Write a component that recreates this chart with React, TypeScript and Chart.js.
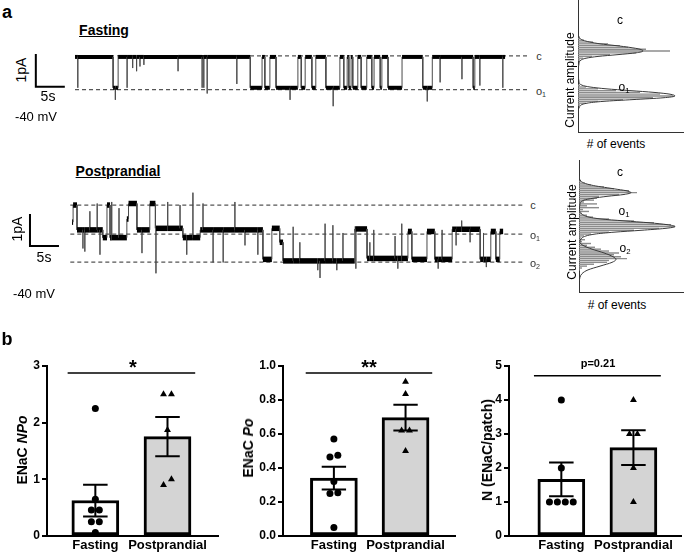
import React, { useEffect, useRef } from 'react';
import { Chart, registerables } from 'chart.js';
Chart.register(...registerables);

const FONT = '"Liberation Sans", Arial, Helvetica, sans-serif';

// ---------- panel b data ----------
const CATS = ['Fasting', 'Postprandial'];
const NPO_FAST = [2.25, 0.65, 0.46, 0.46, 0.25, 0.25, 0.06];
const NPO_POST = [2.5, 2.5, 1.87, 1.0, 0.9];
const PO_FAST = [0.57, 0.475, 0.465, 0.32, 0.255, 0.25, 0.05];
const PO_POST = [0.908, 0.835, 0.62, 0.62, 0.5];
const N_FAST = [4, 2, 1, 1, 1, 1];
const N_POST = [4, 3, 3, 2, 1];
const NPO_TICKS = [0, 1, 2, 3];
const PO_TICKS = [0, 0.2, 0.4, 0.6, 0.8, 1.0];
const N_TICKS = [0, 1, 2, 3, 4, 5];

// ---------- panel a data: single-channel traces (time s, current pA) ----------
const FAST_DWELL_T = [0, 6.8, 7.7, 31.3, 33.4, 33.9, 34.8, 35.9, 39.8, 40.4, 41.1, 42.3, 43.0, 44.8, 47.3, 48.0, 48.6, 48.9, 49.3, 49.6, 50.5, 51.1, 52.1, 53.0, 53.4, 54.5, 54.8, 55.9, 58.4, 62.1, 63.8, 71.1, 71.4];
const FAST_DWELL_I = [0, -0.97, 0, -0.97, 0, -0.97, 0, -0.97, 0, -0.97, 0, -0.97, 0, -0.97, 0, -0.97, 0, -0.97, 0, -0.97, 0, -0.97, 0, -0.97, 0, -0.97, 0, -0.97, 0, -0.97, 0, -0.97, 0];
const FAST_END = 76.8;
const FAST_SPIKE_T = [0.5, 7.2, 9.3, 10.3, 11.0, 11.6, 12.3, 18.4, 22.7, 23.0, 23.6, 28.9, 38.4, 46.1, 62.9, 65.2, 69.1, 72.3, 76.4];
const FAST_SPIKE_I = [-0.97, -1.35, -0.97, -0.35, -0.45, -0.3, -0.25, -0.45, -0.97, -0.97, -1.15, -0.85, -1.35, -1.55, -1.4, -0.8, -0.7, -0.9, -0.97];
const FAST_LEVELS = [0.03, -1.03];

const POST_DWELL_T = [0, 0.2, 0.9, 5.5, 6.25, 6.8, 9.8, 10.1, 11.6, 13.9, 14.9, 19.8, 22.9, 34.1, 35.7, 37.1, 37.7, 50.5, 52.7, 60.0, 60.7, 63.4, 64.8, 67.9, 72.9, 74.8, 75.7, 76.4];
const POST_DWELL_I = [-0.55, 0, -0.8, -1.05, 0, -1.05, -0.45, 0.05, -0.8, 0.05, -0.75, -1.05, -0.8, -1.75, -0.75, -1.2, -1.8, -0.77, -1.72, -0.85, -1.75, -0.85, -1.75, -0.78, -1.75, -0.85, -1.75, -0.85];
const POST_END = 77.0;
const POST_SPIKE_T = [1.96, 2.3, 3.2, 4.5, 5.0, 7.1, 8.4, 12.5, 15.0, 17.1, 19.3, 20.5, 21.6, 23.4, 25.2, 27.0, 29.1, 30.9, 33.2, 39.5, 40.7, 43.9, 44.3, 45.2, 46.6, 47.3, 48.4, 50.7, 53.2, 53.9, 57.7, 58.2, 58.9, 65.4, 66.1, 68.6, 69.6, 71.1, 73.5, 74.0];
const POST_SPIKE_I = [-1.4, -1.5, -0.2, 0.05, -1.6, 0.1, -0.1, -1.55, -2.2, 0.1, 0.0, -1.6, 0.4, 0.05, -1.85, -1.85, 0.1, -1.3, -1.6, -0.7, -1.2, -2.1, -2.35, -0.6, -0.65, -2.1, -0.9, -2.05, -1.2, -0.8, -1.0, -2.05, -0.6, -2.05, -0.8, -1.3, -0.5, -1.2, -0.9, -2.0];
const POST_LEVELS = [0, -0.94, -1.84];

// ---------- panel a data: amplitude histograms ----------
const HIST1_AMP = [0.28, 0.24, 0.20, 0.16, 0.12, 0.08, 0.04, 0.00, -0.04, -0.08, -0.12, -0.16, -0.20, -0.24, -0.28, -0.32, -0.36, -0.40, -0.44, -0.48, -0.52, -0.56, -0.60, -0.64, -0.68, -0.72, -0.76, -0.80, -0.84, -0.88, -0.92, -0.96, -1.00, -1.04, -1.08, -1.12, -1.16, -1.20];
const HIST1_COUNT = [2, 6, 15, 30, 42, 50, 68, 92, 58, 32, 14, 5, 2, 0, 0, 1, 0, 0, 1, 0, 0, 0, 1, 0, 0, 0, 2, 8, 20, 38, 62, 82, 95, 75, 45, 20, 8, 2];
const HIST1_FIT_AMP = [0.40, 0.32, 0.24, 0.16, 0.12, 0.08, 0.04, 0.00, -0.04, -0.08, -0.12, -0.16, -0.20, -0.28, -0.40, -0.56, -0.68, -0.76, -0.80, -0.84, -0.88, -0.92, -0.96, -1.00, -1.04, -1.08, -1.12, -1.16, -1.24, -1.40];
const HIST1_FIT = [0, 1, 5, 22, 38, 52, 62, 65, 58, 40, 20, 8, 3, 1, 0.5, 0.5, 1, 4, 12, 28, 52, 76, 92, 97, 85, 55, 25, 9, 1.5, 0];

const HIST2_AMP = [0.30, 0.25, 0.20, 0.15, 0.10, 0.05, 0.00, -0.05, -0.10, -0.15, -0.20, -0.25, -0.30, -0.35, -0.40, -0.45, -0.50, -0.55, -0.60, -0.65, -0.70, -0.75, -0.80, -0.85, -0.90, -0.95, -1.00, -1.05, -1.10, -1.15, -1.20, -1.25, -1.30, -1.35, -1.40, -1.45, -1.50, -1.55, -1.60, -1.65, -1.70, -1.75, -1.80, -1.85, -1.90, -1.95, -2.00, -2.05];
const HIST2_COUNT = [2, 6, 12, 25, 35, 50, 58, 40, 20, 18, 15, 5, 18, 8, 20, 4, 10, 3, 8, 14, 30, 55, 75, 92, 96, 80, 55, 30, 12, 5, 2, 6, 3, 12, 8, 16, 22, 30, 40, 35, 42, 48, 30, 28, 15, 8, 3, 1];
const HIST2_FIT_AMP = [0.45, 0.30, 0.20, 0.10, 0.05, 0.00, -0.05, -0.10, -0.15, -0.20, -0.30, -0.45, -0.55, -0.65, -0.70, -0.75, -0.80, -0.85, -0.90, -0.95, -1.00, -1.05, -1.10, -1.20, -1.32, -1.40, -1.50, -1.60, -1.70, -1.77, -1.85, -1.95, -2.05, -2.15, -2.35];
const HIST2_FIT = [0, 2, 12, 35, 47, 52, 45, 28, 14, 5, 1, 0.5, 2, 10, 22, 45, 70, 88, 96, 86, 62, 35, 16, 3, 1, 4, 13, 25, 34, 37, 33, 21, 9, 3, 0];

// ---------- helpers ----------
const mean = (v: number[]) => v.reduce((a, b) => a + b, 0) / v.length;
const sem = (v: number[], m: number) =>
  Math.sqrt(v.reduce((a, b) => a + (b - m) * (b - m), 0) / (v.length - 1)) / Math.sqrt(v.length);

function swarm(vals: number[], tol: number, spacing: number): number[] {
  const idx = vals.map((_, i) => i).sort((a, b) => vals[a] - vals[b]);
  const off = new Array(vals.length).fill(0);
  let group: number[] = [];
  const flush = () => {
    group.forEach((gi, k) => { off[gi] = (k - (group.length - 1) / 2) * spacing; });
    group = [];
  };
  idx.forEach((i) => {
    if (group.length && vals[i] - vals[group[group.length - 1]] > tol) flush();
    group.push(i);
  });
  flush();
  return off;
}

function buildTrace(dT: number[], dI: number[], end: number, sT: number[], sI: number[]) {
  const pts: { x: number; y: number }[] = [];
  for (let k = 0; k < dT.length; k++) {
    const t0 = dT[k];
    const t1 = k + 1 < dT.length ? dT[k + 1] : end;
    const L = dI[k];
    pts.push({ x: t0, y: L });
    for (let j = 0; j < sT.length; j++) {
      if (sT[j] > t0 && sT[j] < t1) {
        pts.push({ x: sT[j], y: L }, { x: sT[j], y: sI[j] }, { x: sT[j], y: L });
      }
    }
    pts.push({ x: t1, y: L });
  }
  return pts;
}

const baseOpts = {
  animation: false,
  responsive: false,
  devicePixelRatio: 1,
  events: [],
  plugins: { legend: { display: false }, tooltip: { enabled: false }, title: { display: false } },
};

function traceConfig(pts: any[], levels: number[], dash0: number, dash1: number, bar: any[], xMin: number, xMax: number, yMin: number, yMax: number, band: number) {
  const vertical = (c: any) => c.p0.parsed.x === c.p1.parsed.x;
  return {
    type: 'line',
    data: {
      datasets: [
        {
          data: pts, borderColor: '#000', borderWidth: band, pointRadius: 0, order: 0,
          segment: {
            borderWidth: (c: any) => (vertical(c) ? 1 : band),
            borderColor: (c: any) => (vertical(c) ? '#4a4a4a' : '#000'),
          },
        },
        { data: bar, borderColor: '#000', borderWidth: 2, pointRadius: 0, borderJoinStyle: 'miter', borderCapStyle: 'square', order: 1 },
        ...levels.map((y) => ({
          data: [{ x: dash0, y }, { x: dash1, y }],
          borderColor: '#555', borderWidth: 1.2, borderDash: [4, 3], pointRadius: 0, order: 2,
        })),
      ],
    },
    options: {
      ...baseOpts,
      layout: { padding: 0 },
      scales: {
        x: { type: 'linear', display: false, min: xMin, max: xMax },
        y: { type: 'linear', display: false, min: yMin, max: yMax },
      },
    },
  };
}

function histConfig(amp: number[], count: number[], fitAmp: number[], fit: number[], yMin: number, yMax: number, xMax: number) {
  const axis = (w: 'w' | 'h') => ({
    ticks: { display: false },
    grid: { display: false, drawTicks: false },
    border: { display: true, color: '#333', width: 1 },
    afterFit: (s: any) => { if (w === 'w') s.width = 3; else s.height = 3; },
  });
  return {
    type: 'bar',
    data: {
      datasets: [
        {
          type: 'line', indexAxis: 'y', data: fit.map((c, i) => ({ x: c, y: fitAmp[i] })),
          borderColor: '#3a3a3a', borderWidth: 1, pointRadius: 0, cubicInterpolationMode: 'monotone', order: 0,
        },
        {
          type: 'bar', indexAxis: 'y', data: count.map((c, i) => ({ x: c, y: amp[i] })),
          backgroundColor: '#8c8c8c', borderWidth: 0, categoryPercentage: 1, barPercentage: 0.75, order: 1,
        },
      ],
    },
    options: {
      ...baseOpts,
      indexAxis: 'y',
      layout: { padding: { left: 0, top: 0, right: 2, bottom: 0 } },
      scales: {
        x: { type: 'linear', min: 0, max: xMax, ...axis('h') },
        y: { type: 'linear', min: yMin, max: yMax, ...axis('w') },
      },
    },
  };
}

const JIT = 0.11;
const CAP = 0.17;

function barConfig(fast: number[], post: number[], ticks: number[], digits: number, xMin: number, xMax: number, sig: { y: number; x0: number; x1: number }) {
  const yMax = ticks[ticks.length - 1];
  const groups = [fast, post];
  const stats = groups.map((v) => { const m = mean(v); return { m, s: sem(v, m) }; });
  const jit = groups.map((v) => swarm(v, 0.04 * yMax, JIT));
  const datasets: any[] = [];
  datasets.push({
    type: 'line', data: [{ x: sig.x0, y: sig.y }, { x: sig.x1, y: sig.y }],
    borderColor: '#000', borderWidth: 1.5, pointRadius: 0, order: 0,
  });
  stats.forEach((st, g) => {
    const hi = st.m + st.s, lo = st.m - st.s;
    datasets.push({
      type: 'line',
      data: [{ x: g - CAP, y: hi }, { x: g + CAP, y: hi }, { x: g, y: hi }, { x: g, y: lo }, { x: g - CAP, y: lo }, { x: g + CAP, y: lo }],
      borderColor: '#000', borderWidth: 2, pointRadius: 0, borderJoinStyle: 'miter', order: 1,
    });
  });
  groups.forEach((v, g) => {
    datasets.push({
      type: 'scatter', data: v.map((y, i) => ({ x: g + jit[g][i], y })),
      pointStyle: g === 0 ? 'circle' : 'triangle', pointRadius: g === 0 ? 3.5 : 4,
      backgroundColor: '#000', borderColor: '#000', borderWidth: 0, order: 2,
    });
  });
  datasets.push({
    type: 'bar', data: stats.map((st, g) => ({ x: g, y: st.m })),
    backgroundColor: ['#ffffff', '#d4d4d4'], borderColor: '#000', borderWidth: 3,
    borderSkipped: false, barThickness: 47, order: 3,
  });
  return {
    type: 'bar',
    data: { datasets },
    options: {
      ...baseOpts,
      layout: { padding: { top: 10, right: 2, left: 0, bottom: 0 } },
      scales: {
        x: {
          type: 'linear', min: xMin, max: xMax, offset: false,
          afterBuildTicks: (s: any) => { s.ticks = CATS.map((_, i) => ({ value: i })); },
          afterFit: (s: any) => { s.height = 21; },
          ticks: {
            autoSkip: false, maxRotation: 0, padding: 2, color: '#000',
            font: { family: FONT, size: 13, weight: 'bold' },
            callback: (v: any) => CATS[Math.round(Number(v))] ?? '',
          },
          grid: { display: true, drawOnChartArea: false, drawTicks: false },
          border: { display: true, color: '#000', width: 2 },
        },
        y: {
          type: 'linear', min: 0, max: yMax,
          afterBuildTicks: (s: any) => { s.ticks = ticks.map((v) => ({ value: v })); },
          afterFit: (s: any) => { s.width = 40; },
          ticks: {
            padding: 2, color: '#000', font: { family: FONT, size: 12, weight: 'bold' },
            callback: (v: any) => Number(v).toFixed(digits),
          },
          grid: { display: true, drawOnChartArea: false, drawTicks: true, tickLength: 5, color: '#000', lineWidth: 2 },
          border: { display: true, color: '#000', width: 2 },
        },
      },
    },
  };
}

function ChartCanvas({ left, top, width, height, config }: any) {
  const ref = useRef<HTMLCanvasElement>(null);
  useEffect(() => {
    const chart = new Chart(ref.current as HTMLCanvasElement, config);
    return () => chart.destroy();
  }, []);
  return (
    <canvas ref={ref} width={width} height={height}
      style={{ position: 'absolute', left, top, width, height }} />
  );
}

function T({ x, y, size = 12, bold = false, rot = false, color = '#000', underline = false, children }: any) {
  return (
    <div style={{
      position: 'absolute', left: x, top: y, fontSize: size, fontWeight: bold ? 'bold' : 'normal',
      lineHeight: 1, whiteSpace: 'nowrap', color, textDecoration: underline ? 'underline' : 'none',
      transform: `translate(-50%, -50%)${rot ? ' rotate(-90deg)' : ''}`,
    }}>{children}</div>
  );
}

const Sub = ({ children }: any) => (
  <sub style={{ fontSize: '0.65em', lineHeight: 0, verticalAlign: '-0.3em' }}>{children}</sub>
);

export default function App() {
  const fastPts = buildTrace(FAST_DWELL_T, FAST_DWELL_I, FAST_END, FAST_SPIKE_T, FAST_SPIKE_I);
  const postPts = buildTrace(POST_DWELL_T, POST_DWELL_I, POST_END, POST_SPIKE_T, POST_SPIKE_I);
  // scale bars: 1 pA vertical, 5 s horizontal
  const fastBar = [{ x: -7.0, y: 0.06 }, { x: -7.0, y: -0.94 }, { x: -2.0, y: -0.94 }];
  const postBar = [{ x: -7.5, y: -0.32 }, { x: -7.5, y: -1.32 }, { x: -2.5, y: -1.32 }];

  return (
    <div style={{ position: 'absolute', left: 0, top: 0, width: 685, height: 557, background: '#fff', overflow: 'hidden', fontFamily: FONT, color: '#000' }}>
      {/* panel a traces */}
      <ChartCanvas left={30} top={45} width={500} height={66}
        config={traceConfig(fastPts, FAST_LEVELS, 0, 80.9, fastBar, -8.04, 81.25, -1.7, 0.375, 4)} />
      <ChartCanvas left={25} top={188} width={505} height={94}
        config={traceConfig(postPts, POST_LEVELS, -0.3, 80.9, postBar, -8.39, 81.8, -2.48, 0.55, 5.5)} />
      {/* histograms */}
      <ChartCanvas left={575} top={0} width={110} height={135}
        config={histConfig(HIST1_AMP, HIST1_COUNT, HIST1_FIT_AMP, HIST1_FIT, -1.556, 0.89, 105)} />
      <ChartCanvas left={576} top={160} width={109} height={135}
        config={histConfig(HIST2_AMP, HIST2_COUNT, HIST2_FIT_AMP, HIST2_FIT, -2.386, 0.614, 104)} />
      {/* panel b */}
      <ChartCanvas left={7} top={356} width={215} height={201}
        config={barConfig(NPO_FAST, NPO_POST, NPO_TICKS, 0, -0.67, 1.70, { y: 2.877, x0: -0.384, x1: 1.384 })} />
      <ChartCanvas left={243} top={356} width={216} height={201}
        config={barConfig(PO_FAST, PO_POST, PO_TICKS, 1, -0.71, 1.69, { y: 0.959, x0: -0.393, x1: 1.372 })} />
      <ChartCanvas left={469} top={356} width={216} height={201}
        config={barConfig(N_FAST, N_POST, N_TICKS, 0, -0.726, 1.66, { y: 4.71, x0: -0.38, x1: 1.38 })} />

      {/* panel a text */}
      <T x={7} y={12} size={18} bold>a</T>
      <T x={104} y={30} size={14} bold underline>Fasting</T>
      <T x={21} y={70} size={14} rot>1pA</T>
      <T x={48} y={96} size={14}>5s</T>
      <T x={36} y={116} size={13}>-40 mV</T>
      <T x={539} y={56} size={11} color="#333">c</T>
      <T x={541} y={91} size={11} color="#333">o<Sub>1</Sub></T>

      <T x={118} y={171} size={14} bold underline>Postprandial</T>
      <T x={17} y={229} size={14} rot>1pA</T>
      <T x={44} y={257} size={14}>5s</T>
      <T x={34} y={293} size={13}>-40 mV</T>
      <T x={533} y={205} size={11} color="#333">c</T>
      <T x={535} y={235} size={11} color="#333">o<Sub>1</Sub></T>
      <T x={535} y={263} size={11} color="#333">o<Sub>2</Sub></T>

      <T x={570} y={80} size={12} rot>Current amplitude</T>
      <T x={616} y={144} size={12}># of events</T>
      <T x={620} y={20} size={12}>c</T>
      <T x={624} y={87} size={12}>o<Sub>1</Sub></T>

      <T x={572} y={232} size={12} rot>Current amplitude</T>
      <T x={617} y={305} size={12}># of events</T>
      <T x={620} y={172} size={12}>c</T>
      <T x={624} y={211} size={12}>o<Sub>1</Sub></T>
      <T x={625} y={248} size={12}>o<Sub>2</Sub></T>

      {/* panel b text */}
      <T x={7} y={339} size={18} bold>b</T>
      <T x={22} y={450} size={14} bold rot>ENaC <i>NPo</i></T>
      <T x={248} y={448} size={14} bold rot>ENaC <i>Po</i></T>
      <T x={487} y={450} size={14} bold rot>N (ENaC/patch)</T>
      <T x={133} y={367} size={20} bold>*</T>
      <T x={369} y={367} size={20} bold>**</T>
      <T x={598} y={363} size={11} bold>p=0.21</T>
    </div>
  );
}
